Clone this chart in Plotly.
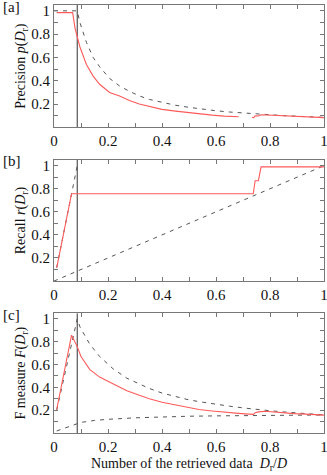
import plotly.graph_objects as go
from plotly.subplots import make_subplots

# ---- data ----
optimal_ratio = 0.086  # vertical reference line, D_r/D

# [a] precision
prec_x = [0.01, 0.069, 0.078, 0.086, 0.096, 0.12, 0.145, 0.169, 0.206, 0.243, 0.279,
          0.316, 0.353, 0.40, 0.45, 0.50, 0.537, 0.586, 0.63, 0.684, 0.71, 0.733, 0.74,
          0.745, 0.757, 0.767, 0.80, 0.855, 0.93, 1.0]
prec_y = [0.985, 0.985, 0.85, 0.77, 0.69, 0.54, 0.44, 0.37, 0.30, 0.27, 0.23,
          0.20, 0.18, 0.155, 0.14, 0.125, 0.115, 0.105, 0.097, 0.092, None, 0.085, 0.084,
          0.10, 0.098, 0.108, 0.104, 0.097, 0.09, 0.084]
prec_ideal_x = [0.0, 0.086, 0.096, 0.12, 0.145, 0.169, 0.206, 0.243, 0.279, 0.316, 0.353,
                0.40, 0.45, 0.50, 0.55, 0.60, 0.65, 0.70, 0.75, 0.80, 0.85, 0.90, 0.95, 1.0]
prec_ideal_y = [1.0, 1.0, 0.9, 0.73, 0.6, 0.52, 0.42, 0.355, 0.31, 0.27, 0.24,
                0.215, 0.19, 0.172, 0.156, 0.143, 0.132, 0.123, 0.115, 0.108, 0.101, 0.096, 0.091, 0.086]

# [b] recall
rec_x = [0.01, 0.065, 0.738, 0.745, 0.757, 0.767, 1.0]
rec_y = [0.115, 0.757, 0.757, 0.87, 0.87, 0.99, 0.99]
rec_ideal_x = [0.01, 0.086]
rec_ideal_y = [0.116, 1.0]
rec_random_x = [0.0, 1.0]
rec_random_y = [0.0, 1.0]

# [c] F measure
f_x = [0.01, 0.065, 0.086, 0.10, 0.132, 0.169, 0.22, 0.27, 0.316, 0.353, 0.40, 0.45,
       0.50, 0.537, 0.586, 0.635, 0.684, 0.708, 0.739, 0.745, 0.757, 0.782, 0.831, 0.89, 0.95, 1.0]
f_y = [0.206, 0.857, 0.757, 0.67, 0.557, 0.49, 0.43, 0.37, 0.33, 0.30, 0.27, 0.245,
       0.22, 0.206, 0.193, 0.18, 0.172, 0.168, 0.163, 0.178, 0.185, 0.19, 0.18, 0.17, 0.163, 0.157]
f_ideal_x = [0.01, 0.086, 0.096, 0.132, 0.169, 0.22, 0.27, 0.316, 0.353, 0.40, 0.45, 0.50,
             0.55, 0.60, 0.65, 0.70, 0.75, 0.80, 0.85, 0.90, 0.95, 1.0]
f_ideal_y = [0.2, 1.0, 0.93, 0.78, 0.67, 0.56, 0.48, 0.43, 0.39, 0.35, 0.32, 0.29,
             0.27, 0.25, 0.235, 0.22, 0.205, 0.195, 0.185, 0.176, 0.165, 0.158]
f_random_x = [0.01, 0.086, 0.10, 0.15, 0.20, 0.30, 0.40, 0.50, 0.60, 0.70, 0.80, 0.90, 1.0]
f_random_y = [0.018, 0.085, 0.093, 0.11, 0.12, 0.133, 0.141, 0.147, 0.15, 0.153, 0.155, 0.156, 0.158]

x_ticks = [0, 0.2, 0.4, 0.6, 0.8, 1]
x_ticktext = ["0", "0.2", "0.4", "0.6", "0.8", "1"]
y_ticks = [0.2, 0.4, 0.6, 0.8, 1]
y_ticktext = ["0.2", "0.4", "0.6", "0.8", "1"]

panel_labels = ["[a]", "[b]", "[c]"]
y_titles = [
    "Precision <i>p</i>(<i>D</i><sub>r</sub>)",
    "Recall <i>r</i>(<i>D</i><sub>r</sub>)",
    "F measure <i>F</i>(<i>D</i><sub>r</sub>)",
]
x_title = "Number of the retrieved data  <i>D</i><sub>r</sub>/<i>D</i>"

RED = "#ff5a5a"
DASH = "#555555"
FRAME = "#777777"
FONT = "Liberation Serif"

fig = make_subplots(rows=3, cols=1)

panels = [
    [(prec_ideal_x, prec_ideal_y, "dash"), (prec_x, prec_y, "red")],
    [(rec_ideal_x, rec_ideal_y, "dash"), (rec_random_x, rec_random_y, "dash"), (rec_x, rec_y, "red")],
    [(f_ideal_x, f_ideal_y, "dash"), (f_random_x, f_random_y, "dash"), (f_x, f_y, "red")],
]

for row, traces in enumerate(panels, start=1):
    fig.add_trace(
        go.Scatter(x=[optimal_ratio, optimal_ratio], y=[0, 1.05], mode="lines",
                   line={"color": "#333333", "width": 1}, showlegend=False, hoverinfo="skip"),
        row=row, col=1,
    )
    for xs, ys, kind in traces:
        if kind == "red":
            line = {"color": RED, "width": 1.1}
        else:
            line = {"color": DASH, "width": 1, "dash": "4px,5px"}
        fig.add_trace(
            go.Scatter(x=xs, y=ys, mode="lines", line=line, showlegend=False,
                       connectgaps=False),
            row=row, col=1,
        )

domains = [[0.714, 1.0], [0.355, 0.638], [0.0, 0.280]]
label_y = [0.995, 0.636, 0.276]

axis_common = dict(
    showline=True, linecolor=FRAME, linewidth=1, mirror="ticks",
    ticks="inside", ticklen=4, tickcolor=FRAME, tickwidth=1,
    showgrid=False, zeroline=False, automargin=False,
    tickfont={"family": FONT, "size": 15, "color": "#111"},
    minor={"ticks": "inside", "ticklen": 4, "tickcolor": FRAME, "dtick": 0.1, "tick0": 0, "showgrid": False},
)

for i in range(3):
    n = "" if i == 0 else str(i + 1)
    fig.layout["xaxis" + n].update(
        range=[0, 1], tickvals=x_ticks, ticktext=x_ticktext, domain=[0, 1],
        ticklabeloverflow="allow", **axis_common
    )
    fig.layout["yaxis" + n].update(
        range=[0, 1.05], tickvals=y_ticks, ticktext=y_ticktext, domain=domains[i],
        title={"text": y_titles[i], "font": {"family": FONT, "size": 14, "color": "#111"}, "standoff": 2},
        **axis_common
    )
    fig.add_annotation(
        text=panel_labels[i], xref="paper", yref="paper", x=-0.196, y=label_y[i],
        xanchor="left", yanchor="middle", showarrow=False,
        font={"family": FONT, "size": 15, "color": "#111"},
    )

fig.layout["xaxis3"].title = {"text": x_title, "font": {"family": FONT, "size": 14, "color": "#111"}, "standoff": 4}

fig.update_layout(
    width=327, height=475,
    margin={"l": 54, "r": 3, "t": 5, "b": 42},
    paper_bgcolor="white", plot_bgcolor="white",
    showlegend=False,
)

# drop the browser's default 8px body margin so the figure fills the window
fig.write_html(
    "out.html",
    config={"displayModeBar": False},
    post_script="document.body.style.margin = '0px';",
)
